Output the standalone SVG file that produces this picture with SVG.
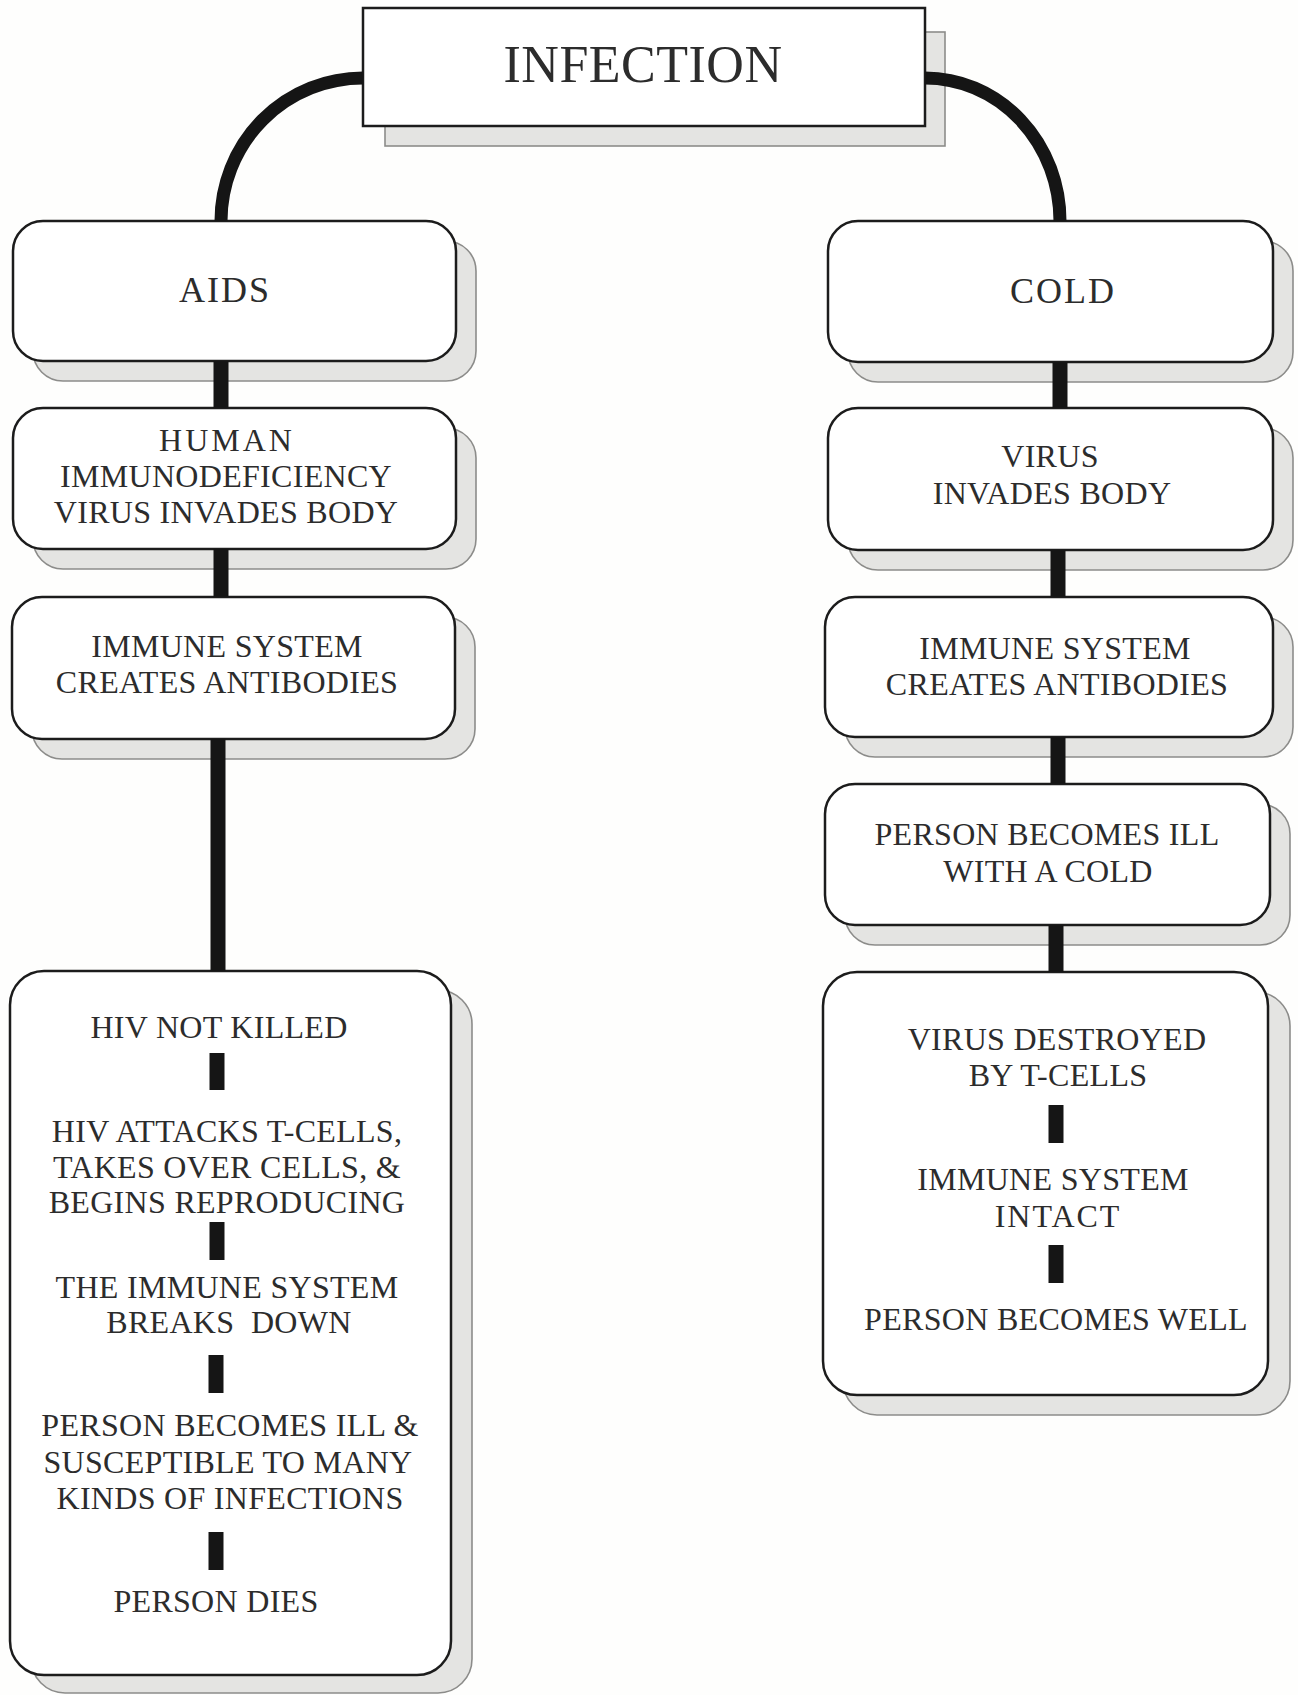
<svg xmlns="http://www.w3.org/2000/svg" width="1298" height="1695" viewBox="0 0 1298 1695">
<style>
.bg{fill:#fefefd}
.box{fill:#ffffff;stroke:#1c1c1c;stroke-width:2.5}
.sh{fill:#e4e4e2;stroke:#8c8c8a;stroke-width:1.6}
.t{font-family:"Liberation Serif","Times New Roman",serif;font-size:32px;fill:#2c2c2c;text-anchor:middle;letter-spacing:0.3px;white-space:pre}
.big{font-size:36px;letter-spacing:2px}
.title{font-size:52px;letter-spacing:0.5px}
.cv{fill:none;stroke:#151515;stroke-width:13}
.bar{stroke:#151515;stroke-width:15;stroke-linecap:butt}
</style>
<rect class="bg" x="0" y="0" width="1298" height="1695"/>

<g id="infection">
  <rect class="sh" x="385" y="32" width="560" height="114"/>
  <rect class="box" x="363" y="8" width="562" height="118" stroke-width="2"/>
  <text class="t title" x="643" y="82">INFECTION</text>
</g>

<g id="aids">
  <rect class="sh" x="33" y="241" width="443" height="140" rx="30"/>
  <rect class="box" x="13" y="221" width="443" height="140" rx="30"/>
  <text class="t big" x="225" y="302">AIDS</text>
</g>

<g id="hiv-invades">
  <rect class="sh" x="33" y="428" width="443" height="141" rx="30"/>
  <rect class="box" x="13" y="408" width="443" height="141" rx="30"/>
  <text class="t" x="227" y="451" style="letter-spacing:3px">HUMAN</text>
  <text class="t" x="226" y="487">IMMUNODEFICIENCY</text>
  <text class="t" x="226" y="523">VIRUS INVADES BODY</text>
</g>

<g id="aids-antibodies">
  <rect class="sh" x="32" y="617" width="443" height="142" rx="30"/>
  <rect class="box" x="12" y="597" width="443" height="142" rx="30"/>
  <text class="t" x="227" y="657">IMMUNE SYSTEM</text>
  <text class="t" x="227" y="693">CREATES ANTIBODIES</text>
</g>

<g id="aids-outcome">
  <rect class="sh" x="31" y="990" width="441" height="703" rx="34"/>
  <rect class="box" x="10" y="971" width="441" height="704" rx="34"/>
  <text class="t" x="219" y="1038">HIV NOT KILLED</text>
  <text class="t" x="227" y="1142">HIV ATTACKS T-CELLS,</text>
  <text class="t" x="227" y="1178">TAKES OVER CELLS, &amp;</text>
  <text class="t" x="227" y="1213">BEGINS REPRODUCING</text>
  <text class="t" x="227" y="1298">THE IMMUNE SYSTEM</text>
  <text class="t" x="229" y="1333">BREAKS  DOWN</text>
  <text class="t" x="230" y="1436">PERSON BECOMES ILL &amp;</text>
  <text class="t" x="228" y="1473">SUSCEPTIBLE TO MANY</text>
  <text class="t" x="230" y="1509">KINDS OF INFECTIONS</text>
  <text class="t" x="216" y="1612">PERSON DIES</text>
</g>

<g id="cold">
  <rect class="sh" x="848" y="241" width="445" height="141" rx="30"/>
  <rect class="box" x="828" y="221" width="445" height="141" rx="30"/>
  <text class="t big" x="1063" y="303">COLD</text>
</g>

<g id="virus-invades">
  <rect class="sh" x="848" y="428" width="445" height="142" rx="30"/>
  <rect class="box" x="828" y="408" width="445" height="142" rx="30"/>
  <text class="t" x="1050" y="467">VIRUS</text>
  <text class="t" x="1052" y="504">INVADES BODY</text>
</g>

<g id="cold-antibodies">
  <rect class="sh" x="845" y="617" width="448" height="140" rx="30"/>
  <rect class="box" x="825" y="597" width="448" height="140" rx="30"/>
  <text class="t" x="1055" y="659">IMMUNE SYSTEM</text>
  <text class="t" x="1057" y="695">CREATES ANTIBODIES</text>
</g>

<g id="cold-ill">
  <rect class="sh" x="845" y="804" width="445" height="141" rx="30"/>
  <rect class="box" x="825" y="784" width="445" height="141" rx="30"/>
  <text class="t" x="1047" y="845">PERSON BECOMES ILL</text>
  <text class="t" x="1048" y="882">WITH A COLD</text>
</g>

<g id="cold-outcome">
  <rect class="sh" x="843" y="992" width="447" height="423" rx="34"/>
  <rect class="box" x="823" y="972" width="445" height="423" rx="34"/>
  <text class="t" x="1057" y="1050">VIRUS DESTROYED</text>
  <text class="t" x="1058" y="1086">BY T-CELLS</text>
  <text class="t" x="1053" y="1190">IMMUNE SYSTEM</text>
  <text class="t" x="1058" y="1227" style="letter-spacing:2px">INTACT</text>
  <text class="t" x="1056" y="1330">PERSON BECOMES WELL</text>
</g>

<g id="connectors">
  <path class="cv" d="M 363 78 A 142 143 0 0 0 221 221"/>
  <path class="cv" d="M 925 78 A 135 143 0 0 1 1060 221"/>
  <line class="bar" x1="221" y1="361" x2="221" y2="408"/>
  <line class="bar" x1="221" y1="549" x2="221" y2="597"/>
  <line class="bar" x1="218" y1="739" x2="218" y2="971"/>
  <line class="bar" x1="1060" y1="362" x2="1060" y2="408"/>
  <line class="bar" x1="1058" y1="550" x2="1058" y2="597"/>
  <line class="bar" x1="1058" y1="737" x2="1058" y2="784"/>
  <line class="bar" x1="1056" y1="925" x2="1056" y2="972"/>
  <line class="bar" x1="217" y1="1053" x2="217" y2="1090"/>
  <line class="bar" x1="217" y1="1222" x2="217" y2="1260"/>
  <line class="bar" x1="216" y1="1355" x2="216" y2="1393"/>
  <line class="bar" x1="216" y1="1532" x2="216" y2="1570"/>
  <line class="bar" x1="1056" y1="1105" x2="1056" y2="1143"/>
  <line class="bar" x1="1056" y1="1245" x2="1056" y2="1283"/>
</g>
</svg>
